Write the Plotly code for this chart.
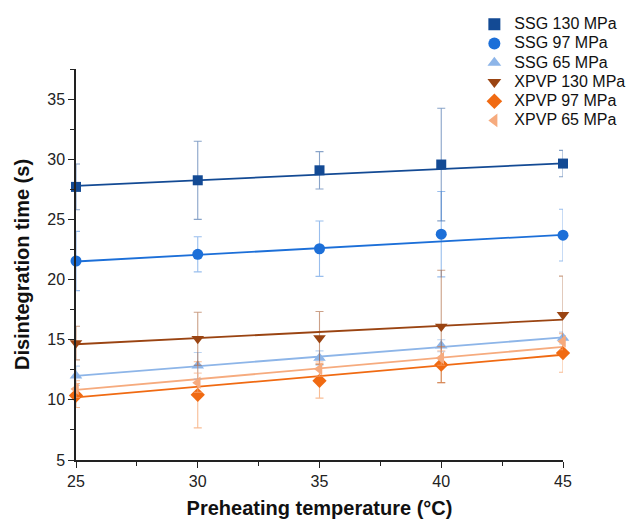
import plotly.graph_objects as go

temps = [25, 30, 35, 40, 45]
series_names = ["SSG 130 MPa", "SSG 97 MPa", "SSG 65 MPa",
                "XPVP 130 MPa", "XPVP 97 MPa", "XPVP 65 MPa"]

ssg130 = [27.7, 28.25, 29.08, 29.56, 29.64]
ssg130_err = [1.9, 3.25, 1.55, 4.68, 1.1]
ssg97 = [21.54, 22.1, 22.56, 23.77, 23.69]
ssg97_err = [2.46, 1.46, 2.3, 3.55, 2.15]
ssg65 = [12.0, 12.83, 13.47, 14.5, 15.14]
ssg65_err = [0.8, 1.1, 0.6, 0.5, 0.5]
xpvp130 = [14.72, 15.08, 15.14, 16.1, 17.08]
xpvp130_err = [1.4, 2.2, 2.2, 4.67, 3.2]
xpvp97 = [10.36, 10.42, 11.58, 12.92, 13.89]
xpvp97_err = [1.0, 2.75, 1.44, 1.5, 1.6]
xpvp65 = [10.9, 11.42, 12.56, 13.47, 14.86]
xpvp65_err = [0.7, 0.8, 0.6, 0.6, 0.7]

# linear fit lines (values at 25 and 45 °C)
fit_x = [25, 45]
fit_ssg130 = [27.78, 29.66]
fit_ssg97 = [21.5, 23.72]
fit_ssg65 = [12.0, 15.19]
fit_xpvp130 = [14.62, 16.67]
fit_xpvp97 = [10.2, 13.75]
fit_xpvp65 = [10.83, 14.4]

values = [ssg130, ssg97, ssg65, xpvp130, xpvp97, xpvp65]
errors = [ssg130_err, ssg97_err, ssg65_err, xpvp130_err, xpvp97_err, xpvp65_err]
fits = [fit_ssg130, fit_ssg97, fit_ssg65, fit_xpvp130, fit_xpvp97, fit_xpvp65]

colors = ["#134a94", "#1c6fd8", "#8db5e8", "#9a4412", "#f06a12", "#f6ab7e"]
err_colors = ["rgba(19,74,148,0.5)", "rgba(28,111,216,0.45)", "rgba(141,181,232,0.6)",
              "rgba(154,68,18,0.5)", "rgba(240,106,18,0.45)", "rgba(246,171,126,0.6)"]
symbols = ["square", "circle", "triangle-up", "triangle-down", "diamond", "triangle-left"]
sizes = [10, 11, 11, 11, 11, 11]

fig = go.Figure()
for i in range(6):
    fig.add_trace(go.Scatter(
        x=fit_x, y=fits[i], mode="lines",
        line=dict(color=colors[i], width=1.8),
        showlegend=False, hoverinfo="skip"))
for i in range(6):
    fig.add_trace(go.Scatter(
        x=temps, y=values[i], mode="markers",
        name='<span style="font-size:16px">' + series_names[i] + '</span>',
        cliponaxis=False,
        marker=dict(symbol=symbols[i], size=sizes[i], color=colors[i]),
        error_y=dict(type="data", array=errors[i], visible=True,
                     color=err_colors[i], thickness=1.1, width=4)))

fig.update_layout(
    width=627, height=521,
    margin=dict(l=76, r=64, t=69, b=61, autoexpand=False),
    plot_bgcolor="white", paper_bgcolor="white",
    font=dict(family="Liberation Sans, Arial, sans-serif", color="#222222", size=16),
    showlegend=True,
    legend=dict(x=0.818, y=1.152, xanchor="left", yanchor="top",
                font=dict(size=12.5, color="#111111"), bgcolor="rgba(255,255,255,0)",
                itemsizing="constant", tracegroupgap=0, borderwidth=0),
)
fig.update_xaxes(
    range=[25, 45], tickvals=[25, 30, 35, 40, 45],
    showline=True, linecolor="#222222", linewidth=1.5,
    ticks="outside", ticklen=6, tickwidth=1.3, tickcolor="#222222",
    minor=dict(tickvals=[27.5, 32.5, 37.5, 42.5], ticks="outside", ticklen=4,
               tickwidth=1.2, tickcolor="#222222"),
    showgrid=False, zeroline=False,
    title=dict(text="<b>Preheating temperature (°C)</b>", font=dict(size=20, color="#111111"),
               standoff=12),
    tickfont=dict(size=16))
fig.update_yaxes(
    range=[5, 37.5], tickvals=[5, 10, 15, 20, 25, 30, 35],
    showline=True, linecolor="#222222", linewidth=1.5,
    ticks="outside", ticklen=6, tickwidth=1.3, tickcolor="#222222",
    minor=dict(tickvals=[7.5, 12.5, 17.5, 22.5, 27.5, 32.5, 37.5], ticks="outside",
               ticklen=4, tickwidth=1.2, tickcolor="#222222"),
    showgrid=False, zeroline=False,
    title=dict(text="<b>Disintegration time (s)</b>", font=dict(size=20, color="#111111"),
               standoff=12),
    tickfont=dict(size=16))

fig.write_html("out.html")
